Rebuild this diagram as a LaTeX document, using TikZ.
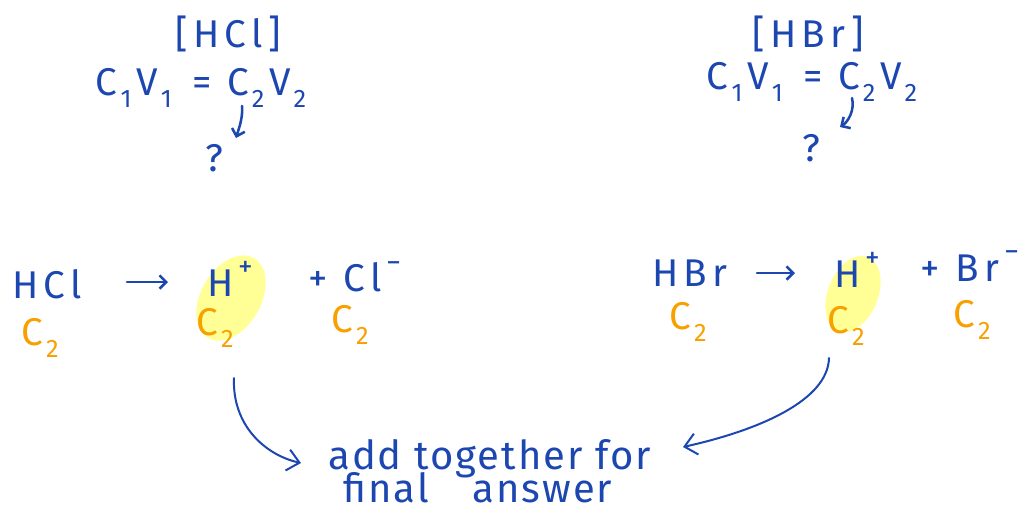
\documentclass[tikz,border=0pt]{standalone}
\usepackage{fontspec}
\setmainfont{Fira Sans}
\newfontfamily\handfont[LetterSpace=14]{Fira Sans}
\newfontfamily\notefont[LetterSpace=5]{Fira Sans}
\usetikzlibrary{arrows.meta}
\definecolor{ink}{HTML}{1D47B0}
\definecolor{orng}{HTML}{F7A000}
\definecolor{hilite}{HTML}{FFFF96}
\newcommand{\lowsub}[1]{\hspace{0.08em}\raisebox{-0.3em}{\fontsize{19}{20}\selectfont #1}\hspace{0.12em}}
\newcommand{\upsup}[1]{\hspace{0.12em}\raisebox{0.5em}{\fontsize{22}{22}\selectfont #1}}
\begin{document}
\begin{tikzpicture}[x=0.75pt,y=-0.75pt,
  bluetxt/.style={text=ink, inner sep=0pt, font=\handfont\fontsize{29}{34}\selectfont},
  notetxt/.style={text=ink, inner sep=0pt, font=\notefont\fontsize{30}{34}\selectfont},
  orgtxt/.style={text=orng, inner sep=0pt, font=\handfont\fontsize{29}{34}\selectfont},
  inkline/.style={draw=ink, line width=1.9pt, line cap=round},
  barb/.style={-{Straight Barb[length=5pt,width=10pt,line width=1.9pt]}},
  bigbarb/.style={-{Straight Barb[length=9pt,width=16pt,line width=1.5pt]}}]
\useasboundingbox (0,0) rectangle (1026,515);
% highlights
\fill[hilite, rotate around={-30:(231,298)}] (231,298) ellipse [x radius=30, y radius=46];
\fill[hilite, rotate around={-22:(853,294)}] (853,294) ellipse [x radius=25, y radius=40];
% left top
\node[bluetxt] (hclb) at (228,34) {[HCl]};
\node[bluetxt] (eq1) at (201,88) {C\lowsub{1}V\lowsub{1} = C\lowsub{2}V\lowsub{2}};
\node[bluetxt] (q1) at (214,158) {?};
% right top
\node[bluetxt] (hbrb) at (808,34) {[HBr]};
\node[bluetxt] (eq2) at (812,82) {C\lowsub{1}V\lowsub{1} = C\lowsub{2}V\lowsub{2}};
\node[bluetxt] (q2) at (811,148) {?};
% reactions left
\node[bluetxt] (hcl) at (47,284) {HCl};
\node[bluetxt] (hp1) at (230,279) {H\upsup{+}};
\node[bluetxt] (cl) at (355,277) {+ Cl\upsup{−}};
\node[orgtxt] (c2a) at (40,338) {C\lowsub{2}};
\node[orgtxt] (c2b) at (215,328) {C\lowsub{2}};
\node[orgtxt] (c2c) at (350,325) {C\lowsub{2}};
% reactions right
\node[bluetxt] (hbr) at (690,273) {HBr};
\node[bluetxt] (hp2) at (857,270) {H\upsup{+}};
\node[bluetxt] (br) at (970,266) {+ Br\upsup{−}};
\node[orgtxt] (c2d) at (688,322) {C\lowsub{2}};
\node[orgtxt] (c2e) at (846,326) {C\lowsub{2}};
\node[orgtxt] (c2f) at (972,320) {C\lowsub{2}};
% bottom text
\node[notetxt, anchor=base west, text depth=0.08em] (sum1) at (328,469) {add together for};
\node[notetxt, anchor=base west, text depth=0pt, text height=0.68em] (sum2) at (343,502) {final\hspace{1.1em}answer};
% arrow end points
\coordinate (r1s) at (127,282); \coordinate (r1e) at (168,282);
\coordinate (r2s) at (757,273); \coordinate (r2e) at (795,273);
\coordinate (d1s) at (242,106); \coordinate (d1e) at (236,138);
\coordinate (d2s) at (852,98);  \coordinate (d2e) at (840,127);
\coordinate (b1s) at (234,378); \coordinate (b1e) at (301,463);
\coordinate (b2s) at (829,358); \coordinate (b2e) at (683,447);
% arrows
\draw[inkline, barb] (r1s) -- (r1e);
\draw[inkline, barb] (r2s) -- (r2e);
\draw[inkline, barb] (d1s) .. controls (243,118) and (239,128) .. (d1e);
\draw[inkline, barb] (d2s) .. controls (855,110) and (848,122) .. (d2e);
\draw[inkline, line width=1.5pt, bigbarb] (b1s) .. controls (232,425) and (265,455) .. (b1e);
\draw[inkline, line width=1.5pt, bigbarb] (b2s) .. controls (828,400) and (760,430) .. (b2e);
\end{tikzpicture}
\end{document}
